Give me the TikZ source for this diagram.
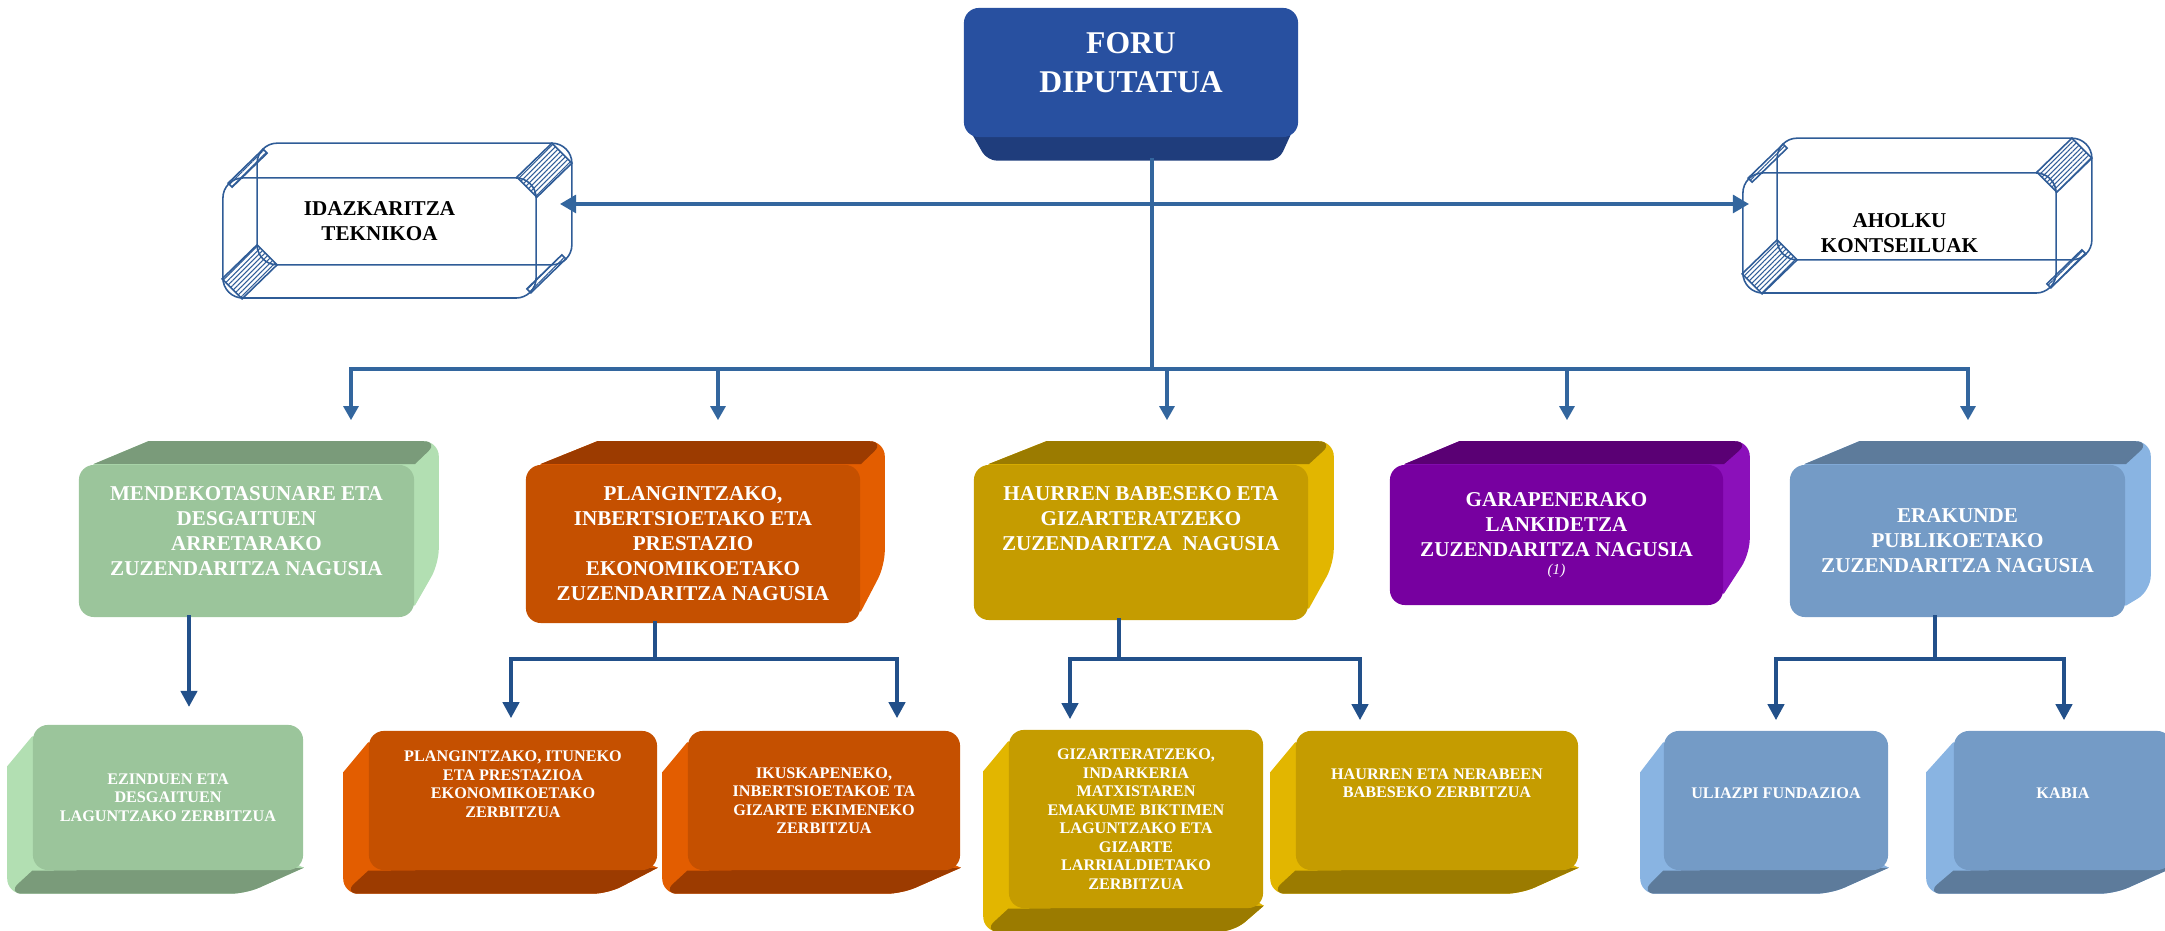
\documentclass[tikz,border=0pt]{standalone}
\usepackage{fontspec}
\setmainfont{Liberation Serif}
\usetikzlibrary{arrows.meta, calc, backgrounds, patterns.meta}
\definecolor{foruF}{HTML}{2850A0}
\definecolor{foruT}{HTML}{1F3D7C}
\definecolor{grnF}{HTML}{9BC59B}
\definecolor{grnT}{HTML}{7A9B7A}
\definecolor{grnS}{HTML}{B2DFB2}
\definecolor{orgF}{HTML}{C55000}
\definecolor{orgT}{HTML}{9C3B00}
\definecolor{orgS}{HTML}{E35D00}
\definecolor{gldF}{HTML}{C59C00}
\definecolor{gldT}{HTML}{9B7B00}
\definecolor{gldS}{HTML}{E2B600}
\definecolor{purF}{HTML}{7700A0}
\definecolor{purT}{HTML}{5A0074}
\definecolor{purS}{HTML}{8B10BA}
\definecolor{bluF}{HTML}{749BC6}
\definecolor{bluT}{HTML}{5D7B9B}
\definecolor{bluS}{HTML}{89B4E2}
\definecolor{wire}{HTML}{2F5C97}
\definecolor{link}{HTML}{33669E}
\definecolor{navy}{HTML}{22508A}

% depth faces: node, colour, left, right, top, bottom
\newcommand{\extrudeUR}[6]{%
  \fill[#2S] ($(#1.north west)+(15,0)$) -- ($(#1.north west)+(#3,#5)$) [rounded corners=0.15cm]
    -- ($(#1.north east)+(#4,#5)$) -- ($(#1.south east)+(#4,#6)$) [sharp corners]
    -- ($(#1.south east)+(0,-12)$) -- cycle;
  \fill[#2T] ($(#1.north west)+(15,0)$) -- ($(#1.north west)+(#3,#5)$) [rounded corners=0.15cm]
    -- ($(#1.north east)+(#4,#5)$) [sharp corners] -- (#1.north east) -- cycle;
}
\newcommand{\extrudeDL}[6]{%
  \fill[#2S] ($(#1.north west)+(0,12)$) -- ($(#1.north west)+(#3,#5)$) [rounded corners=0.15cm]
    -- ($(#1.south west)+(#3,#6)$) -- ($(#1.south east)+(#4,#6)$) [sharp corners]
    -- ($(#1.south east)+(0,-3)$) -- cycle;
  \fill[#2T] (#1.south west) [rounded corners=0.15cm] -- ($(#1.south west)+(#3,#6)$)
    -- ($(#1.south east)+(#4,#6)$) [sharp corners] -- ($(#1.south east)+(0,-3)$) -- cycle;
}
\newcommand{\wireback}[1]{%
  \draw[wireln, rounded corners=0.2cm] ($(#1.north west)+(35,-34)$) rectangle ($(#1.south east)+(35,-34)$);
  \draw[wireln, hatch] ($(#1.north east)+(-20,0)$) -- ($(#1.north east)+(15,-34)$) -- ($(#1.north east)+(35,-14)$) -- ($(#1.north east)+(0,20)$) -- cycle;
  \draw[wireln, hatch] ($(#1.south west)+(0,-20)$) -- ($(#1.south west)+(35,-54)$) -- ($(#1.south west)+(55,-34)$) -- ($(#1.south west)+(20,0)$) -- cycle;
  \draw[wireln, hatch] ($(#1.north west)+(6,6)$) -- ($(#1.north west)+(41,-28)$) -- ($(#1.north west)+(45,-24)$) -- ($(#1.north west)+(10,10)$) -- cycle;
  \draw[wireln, hatch] ($(#1.south east)+(-6,-6)$) -- ($(#1.south east)+(29,-40)$) -- ($(#1.south east)+(25,-44)$) -- ($(#1.south east)+(-10,-10)$) -- cycle;
}

\begin{document}
\begin{tikzpicture}[x=0.01cm, y=-0.01cm,
  face/.style={rectangle, rounded corners=0.15cm, fill=#1, text=white, align=center, inner sep=0pt},
  mid/.style={face=#1, font=\fontsize{6}{7.1}\selectfont\bfseries},
  low/.style={face=#1, font=\fontsize{4.6}{5.26}\selectfont\bfseries},
  wireln/.style={draw=wire, line width=0.45pt},
  hatch/.style={pattern={Lines[angle=45,distance=1pt,line width=0.3pt]}, pattern color=wire},
  wirebox/.style={wireln, rounded corners=0.2cm, minimum width=3.13cm, minimum height=1.2cm,
    align=center, font=\fontsize{6}{7.1}\selectfont\bfseries},
  conn/.style={draw=link, line width=1.2pt, line cap=rect},
  arr/.style={conn, -{Triangle[width=4.2pt,length=4pt]}},
  conn2/.style={draw=navy, line width=1.3pt, line cap=rect},
  arr2/.style={conn2, -{Triangle[width=4.6pt,length=4.6pt]}},
  dbl/.style={draw=link, line width=1.4pt, {Triangle[width=5pt,length=4.6pt]}-{Triangle[width=5pt,length=4.6pt]}}
]
  \useasboundingbox (0,0) rectangle (2165,931);

  % Foru diputatua
  \node[face=foruF, minimum width=3.34cm, minimum height=1.29cm, font=\fontsize{9}{11.1}\selectfont\bfseries]
    (foru) at (1131,72.5) {FORU\\DIPUTATUA\\[-5.4pt]\mbox{}};

  % Wire boxes
  \node[wirebox] (idaz) at (379.5,238) {IDAZKARITZA\\TEKNIKOA\\[2.6pt]\mbox{}};
  \node[wirebox] (ahol) at (1899.5,233) {AHOLKU\\KONTSEILUAK};

  % Zuzendaritza nagusiak
  \node[mid=grnF, minimum width=3.35cm, minimum height=1.52cm] (mende) at (246.5,541)
    {MENDEKOTASUNARE ETA\\DESGAITUEN\\ARRETARAKO\\ZUZENDARITZA NAGUSIA\\[-1.4pt]\mbox{}};
  \node[mid=orgF, minimum width=3.34cm, minimum height=1.58cm] (plan) at (693,544)
    {PLANGINTZAKO,\\INBERTSIOETAKO ETA\\PRESTAZIO\\EKONOMIKOETAKO\\ZUZENDARITZA NAGUSIA};
  \node[mid=gldF, minimum width=3.34cm, minimum height=1.55cm] (haur) at (1141,542.5)
    {HAURREN BABESEKO ETA\\GIZARTERATZEKO\\ZUZENDARITZA\ \ NAGUSIA\\[6.8pt]\mbox{}};
  \node[mid=purF, minimum width=3.33cm, minimum height=1.40cm] (gara) at (1556.5,535)
    {GARAPENERAKO\\LANKIDETZA\\ZUZENDARITZA NAGUSIA\\[-2pt]{\fontsize{4.3}{5}\selectfont\mdseries\itshape (1)}};
  \node[mid=bluF, minimum width=3.35cm, minimum height=1.52cm] (erak) at (1957.5,541)
    {ERAKUNDE\\PUBLIKOETAKO\\ZUZENDARITZA NAGUSIA};

  % Zerbitzuak
  \node[low=grnF, minimum width=2.70cm, minimum height=1.45cm] (ezin) at (168,797.5)
    {EZINDUEN ETA\\DESGAITUEN\\LAGUNTZAKO ZERBITZUA};
  \node[low=orgF, minimum width=2.88cm, minimum height=1.39cm] (itun) at (513,800.5)
    {PLANGINTZAKO, ITUNEKO\\ETA PRESTAZIOA\\EKONOMIKOETAKO\\ZERBITZUA\\[4.1pt]\mbox{}};
  \node[low=orgF, minimum width=2.72cm, minimum height=1.39cm] (ikus) at (824,800.5)
    {IKUSKAPENEKO,\\INBERTSIOETAKOE TA\\GIZARTE EKIMENEKO\\ZERBITZUA};
  \node[low=gldF, minimum width=2.54cm, minimum height=1.78cm] (gizar) at (1136,819)
    {GIZARTERATZEKO,\\INDARKERIA\\MATXISTAREN\\EMAKUME BIKTIMEN\\LAGUNTZAKO ETA\\GIZARTE\\LARRIALDIETAKO\\ZERBITZUA};
  \node[low=gldF, minimum width=2.82cm, minimum height=1.39cm] (nerab) at (1437,800.5)
    {HAURREN ETA NERABEEN\\BABESEKO ZERBITZUA\\[4.7pt]\mbox{}};
  \node[low=bluF, minimum width=2.24cm, minimum height=1.39cm] (uliaz) at (1776,800.5)
    {ULIAZPI FUNDAZIOA\\[-1pt]\mbox{}};
  \node[low=bluF, minimum width=2.18cm, minimum height=1.39cm] (kabia) at (2063,800.5)
    {KABIA\\[-1pt]\mbox{}};

  % 3D faces
  \begin{scope}[on background layer]
    \fill[foruT, rounded corners=0.1cm] ($(foru.south west)+(4,-12)$) -- ($(foru.south west)+(24,23)$)
      -- ($(foru.south east)+(-20,23)$) -- ($(foru.south east)+(-4,-12)$) -- cycle;
    \extrudeUR{mende}{grn}{70}{24}{-23}{-54}
    \extrudeUR{plan}{org}{72}{24}{-23}{-58}
    \extrudeUR{haur}{gld}{73}{25}{-23}{-57}
    \extrudeUR{gara}{pur}{70}{26}{-23}{-52}
    \extrudeUR{erak}{blu}{70}{25}{-23}{-27}
    \extrudeDL{ezin}{grn}{-25}{-58}{42}{23}
    \extrudeDL{itun}{org}{-25}{-50}{42}{23}
    \extrudeDL{ikus}{org}{-25}{-59}{42}{23}
    \extrudeDL{gizar}{gld}{-25}{-30}{42}{23}
    \extrudeDL{nerab}{gld}{-25}{-58}{42}{23}
    \extrudeDL{uliaz}{blu}{-23}{-58}{42}{23}
    \extrudeDL{kabia}{blu}{-27}{-58}{42}{23}
    \wireback{idaz}
    \wireback{ahol}
  \end{scope}

  % Connectors
  \coordinate (hub) at (1152,204);
  \coordinate (bus) at (1152,369);
  \coordinate (d1) at (351,369);
  \coordinate (d2) at (718,369);
  \coordinate (d3) at (1167,369);
  \coordinate (d4) at (1567,369);
  \coordinate (d5) at (1968,369);
  \draw[conn, line width=1.4pt] ($(foru.south)+(21,23)$) -- (bus);
  \draw[dbl] ($(idaz.east |- hub)+(23,0)$) -- ($(ahol.west |- hub)+(7,0)$);
  \draw[conn] (d1) -- (d5);
  \foreach \d/\n in {d1/mende, d2/plan, d3/haur, d4/gara, d5/erak}
    \draw[arr, shorten >=0.44cm] (\d) -- (\d |- \n.north);

  \coordinate (g0) at (189,707);
  \draw[arr2] (mende.south -| g0) -- (g0);

  \coordinate (p0) at (655,659);
  \coordinate (pL) at (511,659);
  \coordinate (pR) at (897,659);
  \draw[conn2] (plan.south -| p0) -- (p0);
  \draw[conn2] (pL) -- (pR);
  \draw[arr2, shorten >=0.12cm] (pL) -- (pL |- itun.north);
  \draw[arr2, shorten >=0.12cm] (pR) -- (pR |- ikus.north);

  \coordinate (h0) at (1119,659);
  \coordinate (hL) at (1070,659);
  \coordinate (hR) at (1360,659);
  \draw[conn2] (haur.south -| h0) -- (h0);
  \draw[conn2] (hL) -- (hR);
  \draw[arr2, shorten >=0.1cm] (hL) -- (hL |- gizar.north);
  \draw[arr2, shorten >=0.1cm] (hR) -- (hR |- nerab.north);

  \coordinate (b0) at (1935,659);
  \coordinate (bL) at (1776,659);
  \coordinate (bR) at (2064,659);
  \draw[conn2] (erak.south -| b0) -- (b0);
  \draw[conn2] (bL) -- (bR);
  \draw[arr2, shorten >=0.1cm] (bL) -- (bL |- uliaz.north);
  \draw[arr2, shorten >=0.1cm] (bR) -- (bR |- kabia.north);
\end{tikzpicture}
\end{document}
